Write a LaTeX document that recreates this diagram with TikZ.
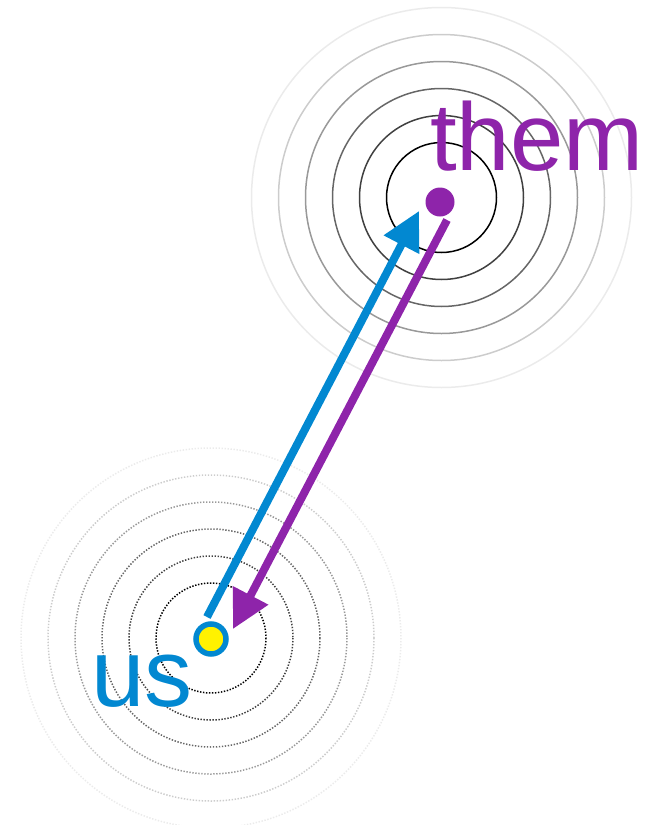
\documentclass[tikz,border=0pt]{standalone}
\usepackage{fontspec}
\setmainfont{Liberation Sans}
\usetikzlibrary{arrows.meta}
\definecolor{usblue}{HTML}{0288D1}
\definecolor{thempurple}{HTML}{8E24AA}
\definecolor{ring1}{HTML}{000000}
\definecolor{ring2}{HTML}{404040}
\definecolor{ring3}{HTML}{666666}
\definecolor{ring4}{HTML}{999999}
\definecolor{ring5}{HTML}{CCCCCC}
\definecolor{ring6}{HTML}{EBEBEB}
\tikzset{
  themring/.style={draw=#1, line width=1.5pt},
  usring/.style={draw=#1, line width=1.5pt, dash pattern=on 1.4pt off 1.6pt},
  bigtext/.style={inner sep=0pt, anchor=base west, font=\fontsize{96}{96}\selectfont},
  signal/.style={line width=8pt, -{Triangle[length=38pt,width=38pt]}},
}
\begin{document}
\begin{tikzpicture}[x=1pt,y=-1pt]
\useasboundingbox (0,0) rectangle (652,825);
\coordinate (themc) at (441.5,197.5);
\coordinate (usc) at (211,638);
% rings around them
\foreach \r/\c in {190/ring6,163/ring5,136/ring4,109/ring3,82/ring2,55/ring1}
  \draw[themring=\c] (themc) circle[radius=\r];
% dotted rings around us
\foreach \r/\c in {190/ring6,163/ring5,136/ring4,109/ring3,82/ring2,55/ring1}
  \draw[usring=\c] (usc) circle[radius=\r];
% dots
\node[circle, fill=thempurple, inner sep=0pt, minimum size=29pt] (them) at (440,202) {};
\node[circle, draw=usblue, line width=5.5pt, fill=yellow, inner sep=0pt, minimum size=30pt] (us) at (211,639) {};
% arrow endpoints
\coordinate (bstart) at (207,617);
\coordinate (bend) at (419,211);
\coordinate (pstart) at (447,220);
\coordinate (pend) at (233,629);
\draw[signal, draw=usblue, fill=usblue] (bstart) -- (bend);
\draw[signal, draw=thempurple, fill=thempurple] (pstart) -- (pend);
% labels
\node[bigtext, text=thempurple] (themlabel) at (430,170) {them};
\node[bigtext, text=usblue] (uslabel) at (91,706) {us};
\end{tikzpicture}
\end{document}
